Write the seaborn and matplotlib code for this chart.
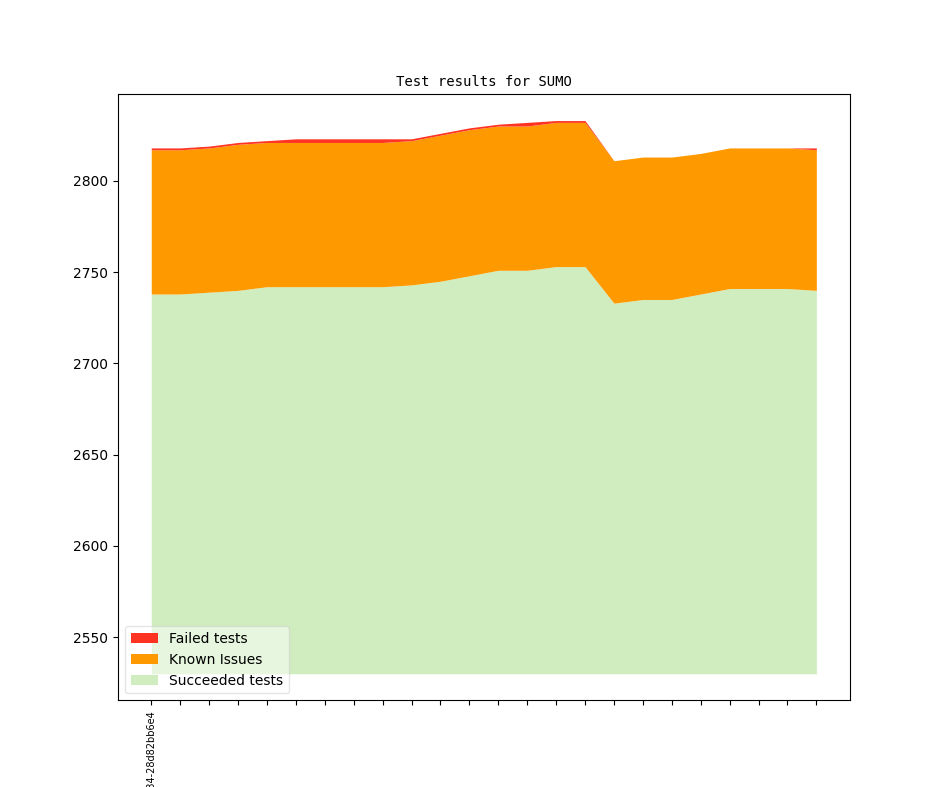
import numpy as np
import pandas as pd
import matplotlib
matplotlib.use("Agg")
import matplotlib.pyplot as plt
import seaborn as sns

# ---- data ----
builds = ["v1_20_0+0134-28d82bb6e4"] + [""] * 23
succeeded = [2738, 2738, 2739, 2740, 2742, 2742, 2742, 2742, 2742, 2743, 2745, 2748,
             2751, 2751, 2753, 2753, 2733, 2735, 2735, 2738, 2741, 2741, 2741, 2740]
known_issues = [79, 79, 79, 80, 79, 79, 79, 79, 79, 79, 80, 80,
                79, 79, 79, 79, 78, 78, 78, 77, 77, 77, 77, 77]
failed = [1, 1, 1, 1, 1, 2, 2, 2, 2, 1, 1, 1,
          1, 2, 1, 1, 0, 0, 0, 0, 0, 0, 0, 1]
baseline = 2530

labels = ["Failed tests", "Known Issues", "Succeeded tests"]
colors = sns.color_palette(["#ff3322", "#ff9900", "#cfedbf"])

df = pd.DataFrame({"build": np.arange(len(succeeded)),
                   "succeeded": succeeded,
                   "known": known_issues,
                   "failed": failed})
df["lvl1"] = df["succeeded"]
df["lvl2"] = df["lvl1"] + df["known"]
df["lvl3"] = df["lvl2"] + df["failed"]

fig, ax = plt.subplots(figsize=(9.44, 7.87), dpi=100)
x = df["build"].to_numpy()
h_s = ax.fill_between(x, baseline, df["lvl1"], color=colors[2], linewidth=0, label=labels[2])
h_k = ax.fill_between(x, df["lvl1"], df["lvl2"], color=colors[1], linewidth=0, label=labels[1])
h_f = ax.fill_between(x, df["lvl2"], df["lvl3"], color=colors[0], linewidth=0, label=labels[0])

ax.set_ylim(2515.4, 2847.3)
ax.set_xticks(x)
ax.set_xticklabels(builds, rotation=90, fontsize=7)
ax.set_title("Test results for SUMO", family="monospace", fontsize=10)
ax.legend(handles=[h_f, h_k, h_s], labels=labels, loc="lower left", framealpha=0.5)

fig.savefig("out.png", dpi=100)
